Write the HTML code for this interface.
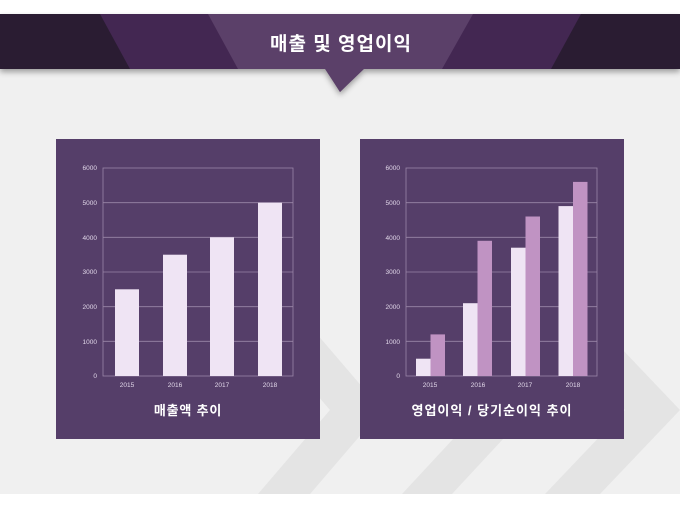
<!DOCTYPE html>
<html><head><meta charset="utf-8"><style>
body{margin:0;width:680px;height:510px;overflow:hidden;background:#fff;font-family:"Liberation Sans","Noto Sans CJK KR",sans-serif}
</style></head><body>
<svg width="680" height="510" viewBox="0 0 680 510" xmlns="http://www.w3.org/2000/svg" font-family="Liberation Sans, Noto Sans CJK KR, sans-serif">
<defs><filter id="sh" x="-5%" y="-20%" width="110%" height="160%"><feDropShadow dx="0" dy="3" stdDeviation="3" flood-color="#000" flood-opacity="0.35"/></filter></defs>
<rect x="0" y="0" width="680" height="510" fill="#fff"/>
<rect x="0" y="60" width="680" height="434" fill="#f0f0f0"/>
<g fill="#e4e4e4">
<polygon points="258,494 310,494 382,410 310,326 258,326 330,410"/>
<polygon points="402,494 452,494 530,410 452,326 402,326 480,410"/>
<polygon points="545,494 600,494 680,410 600,326 545,326 625,410"/>
</g>
<g filter="url(#sh)">
<rect x="0" y="14" width="680" height="55" fill="#2a1d30"/>
<polygon points="325,69 364,69 340,92" fill="#5b4069"/>
</g>
<polygon points="100,14 581,14 551,69 130,69" fill="#432752"/>
<polygon points="208,14 473,14 442,69 238,69" fill="#5b4069"/>
<polygon points="325,68 364,68 340,92" fill="#5b4069"/>
<text x="341" y="50" text-anchor="middle" font-size="19" font-weight="bold" letter-spacing="1" fill="#fff">매출 및 영업이익</text>
<rect x="56" y="139" width="264" height="300" fill="#553e69"/>
<rect x="360" y="139" width="264" height="300" fill="#553e69"/>
<g stroke="#9a86a8" stroke-width="0.8" fill="none">
<rect x="103" y="168" width="190" height="208"/>
<line x1="103" y1="202.7" x2="293" y2="202.7"/><line x1="103" y1="237.3" x2="293" y2="237.3"/><line x1="103" y1="272" x2="293" y2="272"/><line x1="103" y1="306.7" x2="293" y2="306.7"/><line x1="103" y1="341.3" x2="293" y2="341.3"/>
<rect x="406" y="168" width="191" height="208"/>
<line x1="406" y1="202.7" x2="597" y2="202.7"/><line x1="406" y1="237.3" x2="597" y2="237.3"/><line x1="406" y1="272" x2="597" y2="272"/><line x1="406" y1="306.7" x2="597" y2="306.7"/><line x1="406" y1="341.3" x2="597" y2="341.3"/>
</g>
<g font-size="6.5" fill="#e0d6e8" text-anchor="end">
<text x="97" y="170">6000</text><text x="97" y="205">5000</text><text x="97" y="240">4000</text><text x="97" y="274">3000</text><text x="97" y="309">2000</text><text x="97" y="344">1000</text><text x="97" y="378">0</text>
<text x="400" y="170">6000</text><text x="400" y="205">5000</text><text x="400" y="240">4000</text><text x="400" y="274">3000</text><text x="400" y="309">2000</text><text x="400" y="344">1000</text><text x="400" y="378">0</text>
</g>
<g fill="#efe4f4">
<rect x="115" y="289.3" width="24" height="86.7"/>
<rect x="163" y="254.7" width="24" height="121.3"/>
<rect x="210" y="237.3" width="24" height="138.7"/>
<rect x="258" y="202.7" width="24" height="173.3"/>
<rect x="416" y="358.7" width="14.5" height="17.3"/>
<rect x="463" y="303.2" width="14.5" height="72.8"/>
<rect x="511" y="247.7" width="14.5" height="128.3"/>
<rect x="558.5" y="206.1" width="14.5" height="169.9"/>
</g>
<g fill="#c093c3">
<rect x="430.5" y="334.4" width="14.5" height="41.6"/>
<rect x="477.5" y="240.8" width="14.5" height="135.2"/>
<rect x="525.5" y="216.5" width="14.5" height="159.5"/>
<rect x="573" y="181.9" width="14.5" height="194.1"/>
</g>
<g font-size="6.5" fill="#e0d6e8" text-anchor="middle">
<text x="127" y="387">2015</text><text x="175" y="387">2016</text><text x="222" y="387">2017</text><text x="270" y="387">2018</text>
<text x="430" y="387">2015</text><text x="478" y="387">2016</text><text x="525" y="387">2017</text><text x="573" y="387">2018</text>
</g>
<text x="188" y="415" text-anchor="middle" font-size="13" font-weight="bold" letter-spacing="0.8" fill="#fff">매출액 추이</text>
<text x="492" y="415" text-anchor="middle" font-size="13" font-weight="bold" letter-spacing="1" fill="#fff">영업이익 / 당기순이익 추이</text>
</svg>
</body></html>
